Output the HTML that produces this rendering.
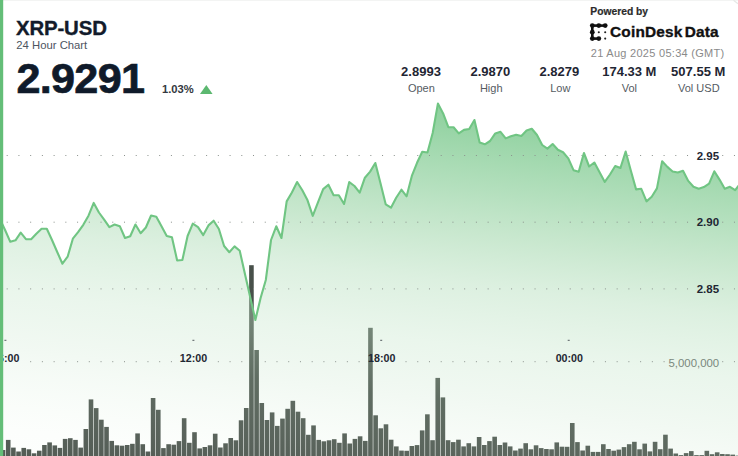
<!DOCTYPE html>
<html><head><meta charset="utf-8"><title>XRP-USD 24 Hour Chart</title>
<style>
html,body{margin:0;padding:0;width:738px;height:456px;overflow:hidden;background:#fff;}
body{position:relative;font-family:"Liberation Sans",Arial,sans-serif;}
svg{position:absolute;left:0;top:0;display:block;}
.b{font-weight:bold;}
</style></head><body>
<svg width="738" height="456" viewBox="0 0 738 456" font-family="Liberation Sans, Arial, sans-serif">
<defs>
<linearGradient id="fg" gradientUnits="userSpaceOnUse" x1="600.00" y1="100.00" x2="550.32" y2="514.04">
<stop offset="0.0000" stop-color="#6ec482" stop-opacity="0.850"/>
<stop offset="0.1048" stop-color="#7cc98e" stop-opacity="0.800"/>
<stop offset="0.2500" stop-color="#91d19f" stop-opacity="0.680"/>
<stop offset="0.3571" stop-color="#a2d7ac" stop-opacity="0.580"/>
<stop offset="0.4762" stop-color="#b5dfbd" stop-opacity="0.470"/>
<stop offset="0.6238" stop-color="#c3e5c9" stop-opacity="0.350"/>
<stop offset="0.7619" stop-color="#bee1c3" stop-opacity="0.200"/>
<stop offset="0.9524" stop-color="#e1f5e1" stop-opacity="0.100"/>
<stop offset="1.0000" stop-color="#e1f5e1" stop-opacity="0.080"/>
</linearGradient>
</defs>
<rect x="0" y="0" width="738" height="1" fill="#f3f4f3"/>
<path d="M733.5,0.3 L738,3.8" stroke="#e6e8e6" stroke-width="1.3" fill="none"/>
<g fill="#48504a">
<rect x="0.73" y="450" width="4.6" height="10"/>
<rect x="5.91" y="439.9" width="4.6" height="20.1"/>
<rect x="11.08" y="447.6" width="4.6" height="12.4"/>
<rect x="16.25" y="451.5" width="4.6" height="8.5"/>
<rect x="21.43" y="447.9" width="4.6" height="12.1"/>
<rect x="26.61" y="449.3" width="4.6" height="10.7"/>
<rect x="31.78" y="453.3" width="4.6" height="6.7"/>
<rect x="36.96" y="450.7" width="4.6" height="9.3"/>
<rect x="42.13" y="445" width="4.6" height="15"/>
<rect x="47.3" y="442.4" width="4.6" height="17.6"/>
<rect x="52.48" y="445.4" width="4.6" height="14.6"/>
<rect x="57.66" y="447.9" width="4.6" height="12.1"/>
<rect x="62.83" y="438.9" width="4.6" height="21.1"/>
<rect x="68" y="438.2" width="4.6" height="21.8"/>
<rect x="73.18" y="439.9" width="4.6" height="20.1"/>
<rect x="78.36" y="447.6" width="4.6" height="12.4"/>
<rect x="83.53" y="429" width="4.6" height="31"/>
<rect x="88.7" y="399.4" width="4.6" height="60.6"/>
<rect x="93.88" y="408.1" width="4.6" height="51.9"/>
<rect x="99.06" y="419.7" width="4.6" height="40.3"/>
<rect x="104.23" y="426.9" width="4.6" height="33.1"/>
<rect x="109.41" y="440.9" width="4.6" height="19.1"/>
<rect x="114.58" y="445.3" width="4.6" height="14.7"/>
<rect x="119.75" y="445.7" width="4.6" height="14.3"/>
<rect x="124.93" y="445" width="4.6" height="15"/>
<rect x="130.1" y="443.8" width="4.6" height="16.2"/>
<rect x="135.28" y="433.4" width="4.6" height="26.6"/>
<rect x="140.45" y="444.2" width="4.6" height="15.8"/>
<rect x="145.63" y="451.5" width="4.6" height="8.5"/>
<rect x="150.8" y="398" width="4.6" height="62"/>
<rect x="155.98" y="409.8" width="4.6" height="50.2"/>
<rect x="161.15" y="448.1" width="4.6" height="11.9"/>
<rect x="166.33" y="444.2" width="4.6" height="15.8"/>
<rect x="171.5" y="444.7" width="4.6" height="15.3"/>
<rect x="176.68" y="441.1" width="4.6" height="18.9"/>
<rect x="181.85" y="418.2" width="4.6" height="41.8"/>
<rect x="187.03" y="442.8" width="4.6" height="17.2"/>
<rect x="192.2" y="432.2" width="4.6" height="27.8"/>
<rect x="197.38" y="448.4" width="4.6" height="11.6"/>
<rect x="202.55" y="447" width="4.6" height="13"/>
<rect x="207.73" y="445.3" width="4.6" height="14.7"/>
<rect x="212.9" y="433.7" width="4.6" height="26.3"/>
<rect x="218.08" y="447.5" width="4.6" height="12.5"/>
<rect x="223.25" y="443.3" width="4.6" height="16.7"/>
<rect x="228.43" y="438" width="4.6" height="22"/>
<rect x="233.6" y="440.3" width="4.6" height="19.7"/>
<rect x="238.78" y="420.3" width="4.6" height="39.7"/>
<rect x="243.95" y="408" width="4.6" height="52"/>
<rect x="249.13" y="265.2" width="4.6" height="194.8"/>
<rect x="254.3" y="350" width="4.6" height="110"/>
<rect x="259.48" y="403" width="4.6" height="57"/>
<rect x="264.65" y="420" width="4.6" height="40"/>
<rect x="269.83" y="412.4" width="4.6" height="47.6"/>
<rect x="275" y="425.9" width="4.6" height="34.1"/>
<rect x="280.18" y="418.6" width="4.6" height="41.4"/>
<rect x="285.35" y="408.8" width="4.6" height="51.2"/>
<rect x="290.53" y="400.8" width="4.6" height="59.2"/>
<rect x="295.7" y="411.7" width="4.6" height="48.3"/>
<rect x="300.88" y="418.2" width="4.6" height="41.8"/>
<rect x="306.05" y="434.8" width="4.6" height="25.2"/>
<rect x="311.23" y="425.4" width="4.6" height="34.6"/>
<rect x="316.4" y="439.9" width="4.6" height="20.1"/>
<rect x="321.58" y="441.3" width="4.6" height="18.7"/>
<rect x="326.75" y="440.3" width="4.6" height="19.7"/>
<rect x="331.93" y="439.2" width="4.6" height="20.8"/>
<rect x="337.1" y="442.8" width="4.6" height="17.2"/>
<rect x="342.28" y="433.4" width="4.6" height="26.6"/>
<rect x="347.45" y="443.5" width="4.6" height="16.5"/>
<rect x="352.63" y="438.9" width="4.6" height="21.1"/>
<rect x="357.8" y="436.3" width="4.6" height="23.7"/>
<rect x="362.98" y="440.9" width="4.6" height="19.1"/>
<rect x="368.15" y="327.8" width="4.6" height="132.2"/>
<rect x="373.33" y="415.3" width="4.6" height="44.7"/>
<rect x="378.5" y="428.3" width="4.6" height="31.7"/>
<rect x="383.68" y="424.3" width="4.6" height="35.7"/>
<rect x="388.85" y="439.7" width="4.6" height="20.3"/>
<rect x="394.03" y="446.4" width="4.6" height="13.6"/>
<rect x="399.2" y="450.6" width="4.6" height="9.4"/>
<rect x="404.38" y="450.8" width="4.6" height="9.2"/>
<rect x="409.55" y="446" width="4.6" height="14"/>
<rect x="414.73" y="445.1" width="4.6" height="14.9"/>
<rect x="419.9" y="430.4" width="4.6" height="29.6"/>
<rect x="425.08" y="414.3" width="4.6" height="45.7"/>
<rect x="430.25" y="440.2" width="4.6" height="19.8"/>
<rect x="435.43" y="377.9" width="4.6" height="82.1"/>
<rect x="440.6" y="397.4" width="4.6" height="62.6"/>
<rect x="445.78" y="440.2" width="4.6" height="19.8"/>
<rect x="450.95" y="442.1" width="4.6" height="17.9"/>
<rect x="456.13" y="439.7" width="4.6" height="20.3"/>
<rect x="461.3" y="446.4" width="4.6" height="13.6"/>
<rect x="466.48" y="443.2" width="4.6" height="16.8"/>
<rect x="471.65" y="446.4" width="4.6" height="13.6"/>
<rect x="476.83" y="437" width="4.6" height="23"/>
<rect x="482" y="445" width="4.6" height="15"/>
<rect x="487.18" y="441.1" width="4.6" height="18.9"/>
<rect x="492.35" y="436.7" width="4.6" height="23.3"/>
<rect x="497.53" y="445" width="4.6" height="15"/>
<rect x="502.7" y="442.5" width="4.6" height="17.5"/>
<rect x="507.88" y="446.4" width="4.6" height="13.6"/>
<rect x="513.05" y="450.5" width="4.6" height="9.5"/>
<rect x="518.23" y="448.6" width="4.6" height="11.4"/>
<rect x="523.4" y="443.2" width="4.6" height="16.8"/>
<rect x="528.58" y="449.3" width="4.6" height="10.7"/>
<rect x="533.75" y="445.3" width="4.6" height="14.7"/>
<rect x="538.93" y="448.1" width="4.6" height="11.9"/>
<rect x="544.11" y="449" width="4.6" height="11"/>
<rect x="549.28" y="449.3" width="4.6" height="10.7"/>
<rect x="554.46" y="442.4" width="4.6" height="17.6"/>
<rect x="559.63" y="446.7" width="4.6" height="13.3"/>
<rect x="564.8" y="446.8" width="4.6" height="13.2"/>
<rect x="569.98" y="423" width="4.6" height="37"/>
<rect x="575.15" y="442.1" width="4.6" height="17.9"/>
<rect x="580.33" y="450.5" width="4.6" height="9.5"/>
<rect x="585.5" y="445.7" width="4.6" height="14.3"/>
<rect x="590.68" y="451.9" width="4.6" height="8.1"/>
<rect x="595.86" y="451.9" width="4.6" height="8.1"/>
<rect x="601.03" y="444.2" width="4.6" height="15.8"/>
<rect x="606.21" y="449" width="4.6" height="11"/>
<rect x="611.38" y="450.7" width="4.6" height="9.3"/>
<rect x="616.55" y="449.6" width="4.6" height="10.4"/>
<rect x="621.73" y="447.1" width="4.6" height="12.9"/>
<rect x="626.9" y="444.2" width="4.6" height="15.8"/>
<rect x="632.08" y="441.8" width="4.6" height="18.2"/>
<rect x="637.25" y="449.3" width="4.6" height="10.7"/>
<rect x="642.43" y="443.6" width="4.6" height="16.4"/>
<rect x="647.61" y="451.4" width="4.6" height="8.6"/>
<rect x="652.78" y="441.8" width="4.6" height="18.2"/>
<rect x="657.96" y="449.2" width="4.6" height="10.8"/>
<rect x="663.13" y="434.7" width="4.6" height="25.3"/>
<rect x="668.3" y="448.6" width="4.6" height="11.4"/>
<rect x="673.48" y="453.5" width="4.6" height="6.5"/>
<rect x="678.65" y="455.1" width="4.6" height="4.9"/>
<rect x="683.83" y="453.1" width="4.6" height="6.9"/>
<rect x="689" y="451.1" width="4.6" height="8.9"/>
<rect x="694.18" y="455.1" width="4.6" height="4.9"/>
<rect x="699.36" y="455.1" width="4.6" height="4.9"/>
<rect x="704.53" y="450.8" width="4.6" height="9.2"/>
<rect x="709.71" y="454.2" width="4.6" height="5.8"/>
<rect x="714.88" y="452.3" width="4.6" height="7.7"/>
<rect x="720.05" y="454" width="4.6" height="6"/>
<rect x="725.23" y="454.2" width="4.6" height="5.8"/>
<rect x="730.4" y="454.6" width="4.6" height="5.4"/>
<rect x="735.58" y="455.6" width="4.6" height="4.4"/>
</g>
<path d="M-0.15,470 L-0.15,219 L5.06,230 L10.28,241.8 L15.49,240.3 L20.71,232.6 L25.93,239.2 L31.14,239.2 L36.35,233.7 L41.57,228.7 L46.79,228.7 L52,240 L57.21,252 L62.43,263.7 L67.64,256.7 L72.86,238.7 L78.07,232.2 L83.29,224.8 L88.5,215.7 L93.72,202.9 L98.93,212.5 L104.15,219.6 L109.36,227.1 L114.58,224.5 L119.79,226.2 L125.01,238 L130.22,236.2 L135.44,224.5 L140.66,233.2 L145.87,227.5 L151.08,215.5 L156.3,216.7 L161.51,226.3 L166.73,236 L171.94,237.2 L177.16,260.5 L182.38,260 L187.59,236 L192.8,223.7 L198.02,227.2 L203.23,235.1 L208.45,225.4 L213.66,220.7 L218.88,229 L224.09,246 L229.31,252.2 L234.52,246.4 L239.74,250.8 L244.95,273.9 L250.17,296.9 L255.38,319.9 L260.6,298 L265.81,280 L271.03,240 L276.25,226.3 L281.46,238 L286.68,201.4 L291.89,192.5 L297.11,182 L302.32,190.3 L307.54,200.3 L312.75,215.8 L317.97,202.3 L323.18,189.1 L328.4,184.7 L333.61,195.3 L338.82,195.3 L344.04,204 L349.25,182.1 L354.47,186 L359.69,192.6 L364.9,177.7 L370.12,171.6 L375.33,163 L380.55,183.6 L385.76,204.4 L390.98,207.7 L396.19,197.8 L401.41,189.7 L406.62,196.3 L411.84,175.9 L417.05,162.8 L422.26,151.8 L427.48,152.5 L432.69,133 L437.91,103.6 L443.12,113.4 L448.34,127.2 L453.56,127.2 L458.77,133.4 L463.99,129.9 L469.2,129 L474.42,120 L479.63,142.4 L484.85,144.3 L490.06,141 L495.28,133.4 L500.49,131.8 L505.7,138.4 L510.92,136.3 L516.13,134.7 L521.35,136 L526.57,130.5 L531.78,128.8 L537,135 L542.21,145 L547.42,148.6 L552.64,144 L557.86,149.8 L563.07,152.3 L568.28,158.4 L573.5,170.2 L578.72,171.8 L583.93,153 L589.14,166.5 L594.36,162.5 L599.58,172.2 L604.79,181.9 L610,174.5 L615.22,166 L620.44,168 L625.65,151.5 L630.87,170.7 L636.08,189.4 L641.29,188.8 L646.51,201.4 L651.73,196.8 L656.94,188.4 L662.15,161.2 L667.37,166.9 L672.59,171.5 L677.8,172.5 L683.01,170.8 L688.23,180.9 L693.45,186.8 L698.66,188.8 L703.88,187.1 L709.09,183.6 L714.3,171.3 L719.52,179.6 L724.74,188.8 L729.95,186.8 L735.16,190.1 L740.38,183.4 L740.38,470 Z" fill="url(#fg)"/>
<path d="M6.7 155.5h1M18.43 155.5h1M30.16 155.5h1M41.89 155.5h1M53.62 155.5h1M65.35 155.5h1M77.08 155.5h1M88.81 155.5h1M100.54 155.5h1M112.27 155.5h1M124 155.5h1M135.73 155.5h1M147.46 155.5h1M159.19 155.5h1M170.92 155.5h1M182.65 155.5h1M194.38 155.5h1M206.11 155.5h1M217.84 155.5h1M229.57 155.5h1M241.3 155.5h1M253.03 155.5h1M264.76 155.5h1M276.49 155.5h1M288.22 155.5h1M299.95 155.5h1M311.68 155.5h1M323.41 155.5h1M335.14 155.5h1M346.87 155.5h1M358.6 155.5h1M370.33 155.5h1M382.06 155.5h1M393.79 155.5h1M405.52 155.5h1M417.25 155.5h1M428.98 155.5h1M440.71 155.5h1M452.44 155.5h1M464.17 155.5h1M475.9 155.5h1M487.63 155.5h1M499.36 155.5h1M511.09 155.5h1M522.82 155.5h1M534.55 155.5h1M546.28 155.5h1M558.01 155.5h1M569.74 155.5h1M581.47 155.5h1M593.2 155.5h1M604.93 155.5h1M616.66 155.5h1M628.39 155.5h1M640.12 155.5h1M651.85 155.5h1M663.58 155.5h1M675.31 155.5h1M687.04 155.5h1M722.23 155.5h1M733.96 155.5h1M6.7 222.2h1M18.43 222.2h1M30.16 222.2h1M41.89 222.2h1M53.62 222.2h1M65.35 222.2h1M77.08 222.2h1M88.81 222.2h1M100.54 222.2h1M112.27 222.2h1M124 222.2h1M135.73 222.2h1M147.46 222.2h1M159.19 222.2h1M170.92 222.2h1M182.65 222.2h1M194.38 222.2h1M206.11 222.2h1M217.84 222.2h1M229.57 222.2h1M241.3 222.2h1M253.03 222.2h1M264.76 222.2h1M276.49 222.2h1M288.22 222.2h1M299.95 222.2h1M311.68 222.2h1M323.41 222.2h1M335.14 222.2h1M346.87 222.2h1M358.6 222.2h1M370.33 222.2h1M382.06 222.2h1M393.79 222.2h1M405.52 222.2h1M417.25 222.2h1M428.98 222.2h1M440.71 222.2h1M452.44 222.2h1M464.17 222.2h1M475.9 222.2h1M487.63 222.2h1M499.36 222.2h1M511.09 222.2h1M522.82 222.2h1M534.55 222.2h1M546.28 222.2h1M558.01 222.2h1M569.74 222.2h1M581.47 222.2h1M593.2 222.2h1M604.93 222.2h1M616.66 222.2h1M628.39 222.2h1M640.12 222.2h1M651.85 222.2h1M663.58 222.2h1M675.31 222.2h1M687.04 222.2h1M722.23 222.2h1M733.96 222.2h1M6.7 288.9h1M18.43 288.9h1M30.16 288.9h1M41.89 288.9h1M53.62 288.9h1M65.35 288.9h1M77.08 288.9h1M88.81 288.9h1M100.54 288.9h1M112.27 288.9h1M124 288.9h1M135.73 288.9h1M147.46 288.9h1M159.19 288.9h1M170.92 288.9h1M182.65 288.9h1M194.38 288.9h1M206.11 288.9h1M217.84 288.9h1M229.57 288.9h1M241.3 288.9h1M253.03 288.9h1M264.76 288.9h1M276.49 288.9h1M288.22 288.9h1M299.95 288.9h1M311.68 288.9h1M323.41 288.9h1M335.14 288.9h1M346.87 288.9h1M358.6 288.9h1M370.33 288.9h1M382.06 288.9h1M393.79 288.9h1M405.52 288.9h1M417.25 288.9h1M428.98 288.9h1M440.71 288.9h1M452.44 288.9h1M464.17 288.9h1M475.9 288.9h1M487.63 288.9h1M499.36 288.9h1M511.09 288.9h1M522.82 288.9h1M534.55 288.9h1M546.28 288.9h1M558.01 288.9h1M569.74 288.9h1M581.47 288.9h1M593.2 288.9h1M604.93 288.9h1M616.66 288.9h1M628.39 288.9h1M640.12 288.9h1M651.85 288.9h1M663.58 288.9h1M675.31 288.9h1M687.04 288.9h1M722.23 288.9h1M733.96 288.9h1M30.16 361.7h1M41.89 361.7h1M53.62 361.7h1M65.35 361.7h1M77.08 361.7h1M88.81 361.7h1M100.54 361.7h1M112.27 361.7h1M124 361.7h1M135.73 361.7h1M147.46 361.7h1M159.19 361.7h1M170.92 361.7h1M217.84 361.7h1M229.57 361.7h1M241.3 361.7h1M253.03 361.7h1M264.76 361.7h1M276.49 361.7h1M288.22 361.7h1M299.95 361.7h1M311.68 361.7h1M323.41 361.7h1M335.14 361.7h1M346.87 361.7h1M358.6 361.7h1M405.52 361.7h1M417.25 361.7h1M428.98 361.7h1M440.71 361.7h1M452.44 361.7h1M464.17 361.7h1M475.9 361.7h1M487.63 361.7h1M499.36 361.7h1M511.09 361.7h1M522.82 361.7h1M534.55 361.7h1M546.28 361.7h1M593.2 361.7h1M604.93 361.7h1M616.66 361.7h1M628.39 361.7h1M640.12 361.7h1M651.85 361.7h1M663.58 361.7h1M722.23 361.7h1M733.96 361.7h1" stroke="#8a918c" stroke-width="1" fill="none"/>
<polyline points="-0.15,219 5.06,230 10.28,241.8 15.49,240.3 20.71,232.6 25.93,239.2 31.14,239.2 36.35,233.7 41.57,228.7 46.79,228.7 52,240 57.21,252 62.43,263.7 67.64,256.7 72.86,238.7 78.07,232.2 83.29,224.8 88.5,215.7 93.72,202.9 98.93,212.5 104.15,219.6 109.36,227.1 114.58,224.5 119.79,226.2 125.01,238 130.22,236.2 135.44,224.5 140.66,233.2 145.87,227.5 151.08,215.5 156.3,216.7 161.51,226.3 166.73,236 171.94,237.2 177.16,260.5 182.38,260 187.59,236 192.8,223.7 198.02,227.2 203.23,235.1 208.45,225.4 213.66,220.7 218.88,229 224.09,246 229.31,252.2 234.52,246.4 239.74,250.8 244.95,273.9 250.17,296.9 255.38,319.9 260.6,298 265.81,280 271.03,240 276.25,226.3 281.46,238 286.68,201.4 291.89,192.5 297.11,182 302.32,190.3 307.54,200.3 312.75,215.8 317.97,202.3 323.18,189.1 328.4,184.7 333.61,195.3 338.82,195.3 344.04,204 349.25,182.1 354.47,186 359.69,192.6 364.9,177.7 370.12,171.6 375.33,163 380.55,183.6 385.76,204.4 390.98,207.7 396.19,197.8 401.41,189.7 406.62,196.3 411.84,175.9 417.05,162.8 422.26,151.8 427.48,152.5 432.69,133 437.91,103.6 443.12,113.4 448.34,127.2 453.56,127.2 458.77,133.4 463.99,129.9 469.2,129 474.42,120 479.63,142.4 484.85,144.3 490.06,141 495.28,133.4 500.49,131.8 505.7,138.4 510.92,136.3 516.13,134.7 521.35,136 526.57,130.5 531.78,128.8 537,135 542.21,145 547.42,148.6 552.64,144 557.86,149.8 563.07,152.3 568.28,158.4 573.5,170.2 578.72,171.8 583.93,153 589.14,166.5 594.36,162.5 599.58,172.2 604.79,181.9 610,174.5 615.22,166 620.44,168 625.65,151.5 630.87,170.7 636.08,189.4 641.29,188.8 646.51,201.4 651.73,196.8 656.94,188.4 662.15,161.2 667.37,166.9 672.59,171.5 677.8,172.5 683.01,170.8 688.23,180.9 693.45,186.8 698.66,188.8 703.88,187.1 709.09,183.6 714.3,171.3 719.52,179.6 724.74,188.8 729.95,186.8 735.16,190.1 740.38,183.4" fill="none" stroke="#70c583" stroke-width="2.1" stroke-linejoin="round" stroke-linecap="round"/>
<g fill="#555b60">
<rect x="4.4" y="339.8" width="2" height="1"/>
<rect x="192.4" y="339.8" width="2" height="1"/>
<rect x="380.2" y="339.8" width="2" height="1"/>
<rect x="567.7" y="339.8" width="2" height="1"/>
</g>
<g font-weight="bold" font-size="10.7" fill="#1f2733" text-anchor="middle">
<text x="5.7" y="361.6">06:00</text>
<text x="193.5" y="361.6">12:00</text>
<text x="381.75" y="361.6">18:00</text>
<text x="569.3" y="361.6">00:00</text>
</g>
<g font-weight="bold" font-size="11.5" fill="#1f2733" text-anchor="end">
<text x="719.1" y="159.5">2.95</text>
<text x="719.1" y="226.3">2.90</text>
<text x="719.1" y="293">2.85</text>
</g>
<text x="719.2" y="366.5" font-size="11.4" fill="#7a887d" text-anchor="end">5,000,000</text>

<text x="16" y="34.6" font-size="20.4" font-weight="bold" fill="#121b2b" stroke="#121b2b" stroke-width="0.35" letter-spacing="-0.15">XRP-USD</text>
<text x="16.3" y="49" font-size="11.3" fill="#4d5461">24 Hour Chart</text>
<text x="16.4" y="92.6" font-size="43.2" font-weight="bold" fill="#0f1a2a" stroke="#0f1a2a" stroke-width="0.7" letter-spacing="-0.7">2.9291</text>
<text x="162" y="92.8" font-size="11.2" font-weight="bold" fill="#333840">1.03%</text>
<polygon points="200,94 212.6,94 206.3,84.9" fill="#5cb870"/>

<g font-weight="bold" font-size="13" fill="#1f2633" text-anchor="middle">
<text x="421" y="75.6">2.8993</text>
<text x="490.3" y="75.6">2.9870</text>
<text x="559.4" y="75.6">2.8279</text>
<text x="629.3" y="75.6">174.33 M</text>
<text x="698.2" y="75.6">507.55 M</text>
</g>
<g font-size="11" fill="#555b62" text-anchor="middle">
<text x="421.4" y="91.5">Open</text>
<text x="491.2" y="91.5">High</text>
<text x="560.3" y="91.5">Low</text>
<text x="629.4" y="91.5">Vol</text>
<text x="698.8" y="91.5">Vol USD</text>
</g>

<text x="590.3" y="14.6" font-size="10.3" font-weight="bold" fill="#2b2b2b" stroke="#2b2b2b" stroke-width="0.2">Powered by</text>
<g fill="#111">
<circle cx="592.3" cy="25.6" r="2.4"/><circle cx="598.8" cy="25.6" r="2.4"/><circle cx="605.2" cy="25.6" r="2.4"/>
<circle cx="592.3" cy="32.2" r="2.4"/><circle cx="592.3" cy="38.6" r="2.4"/><circle cx="598.8" cy="38.6" r="2.4"/>
<rect x="592.3" y="24.3" width="12.9" height="2.6"/><rect x="591" y="25.6" width="2.6" height="13"/><rect x="592.3" y="37.3" width="6.5" height="2.6"/>
<circle cx="598.8" cy="32.2" r="1.05" fill="#222"/><circle cx="605.2" cy="32.2" r="1.05" fill="#222"/><circle cx="605.2" cy="38.6" r="1.05" fill="#222"/>
</g>
<text x="610" y="36.6" font-size="15.4" font-weight="bold" fill="#111" stroke="#111" stroke-width="0.35" letter-spacing="0.2" word-spacing="-2.4">CoinDesk Data</text>
<text x="590.8" y="56.7" font-size="11" fill="#8a8a8a" letter-spacing="0.28">21 Aug 2025 05:34 (GMT)</text>
<rect x="0" y="0" width="3.2" height="456" fill="#64be78"/>
</svg>
</body></html>
